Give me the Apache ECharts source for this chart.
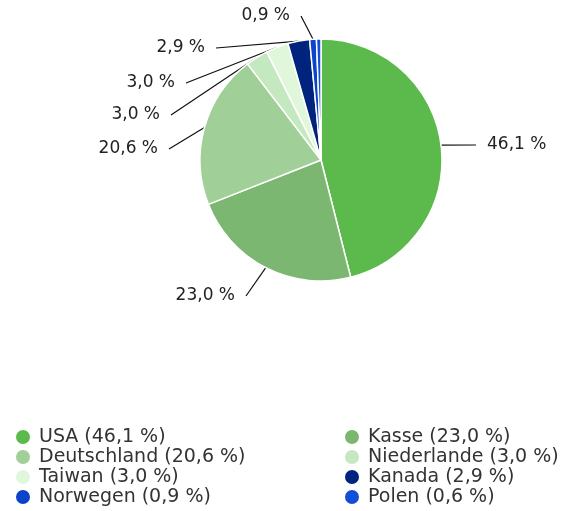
<!DOCTYPE html>
<html>
<head>
<meta charset="utf-8">
<script src="https://cdn.jsdelivr.net/npm/echarts@6/dist/echarts.min.js"></script>
<style>
  html, body { margin: 0; padding: 0; background: #fff; }
  #chart { width: 573px; height: 511px; }
</style>
</head>
<body>
<div id="chart"></div>
<script>
const countries = ['USA', 'Kasse', 'Deutschland', 'Niederlande', 'Taiwan', 'Kanada', 'Norwegen', 'Polen']
const shares = [46.1, 23.0, 20.6, 3.0, 3.0, 2.9, 0.9, 0.6]
const palette = ['#5cb94b', '#7cb771', '#a0cf98', '#c4e8bf', '#e0f7dc', '#00247d', '#0b43c9', '#1150d6']

// where the outside labels sit (text only)
const labelSpots = [
  { x: 487, y: 145, align: 'left' },
  { x: 235, y: 296, align: 'right' },
  { x: 158, y: 149, align: 'right' },
  { x: 160, y: 115, align: 'right' },
  { x: 175, y: 83, align: 'right' },
  { x: 205, y: 48, align: 'right' },
  { x: 290, y: 16, align: 'right' }
]
const gap = 11

const fmt = v => v.toFixed(1).replace('.', ',') + ' %'
const font = 'DejaVu Sans'

const chart = echarts.init(document.getElementById('chart'))

const legendBase = {
  orient: 'vertical',
  top: 427,
  height: 84,
  padding: 0,
  icon: 'circle',
  itemWidth: 16,
  itemHeight: 16,
  itemGap: 0,
  textStyle: { fontFamily: font, fontSize: 19, color: '#333', lineHeight: 20, padding: [0, 0, 0, 3] },
  formatter: name => name + ' (' + fmt(shares[countries.indexOf(name)]) + ')'
}

chart.setOption({
  animation: false,
  color: palette,
  legend: [
    { ...legendBase, left: 14, data: ['USA', 'Deutschland', 'Taiwan', 'Norwegen'] },
    { ...legendBase, left: 343, data: ['Kasse', 'Niederlande', 'Kanada', 'Polen'] }
  ],
  series: [
    {
      type: 'pie',
      center: [321, 160],
      radius: 121,
      startAngle: 90,
      clockwise: true,
      avoidLabelOverlap: false,
      itemStyle: { borderColor: '#fff', borderWidth: 1.5 },
      label: {
        show: true,
        fontFamily: font,
        fontSize: 17,
        color: '#222',
        rich: { g: { width: gap } },
        formatter: p => p.dataIndex === 0 ? '{g|}' + fmt(p.value) : fmt(p.value) + '{g|}'
      },
      labelLine: { show: true, length: 20, length2: 0, lineStyle: { color: '#111', width: 1.2 } },
      labelLayout: p => {
        const s = labelSpots[p.dataIndex]
        if (!s) return {}
        const x = s.align === 'left' ? s.x - gap : s.x + gap
        return { x: x, y: s.y, align: s.align, verticalAlign: 'middle' }
      },
      data: countries.map((c, i) => ({
        name: c,
        value: shares[i],
        label: { show: i < 7 },
        labelLine: { show: i < 7 }
      }))
    }
  ]
})
</script>
</body>
</html>
